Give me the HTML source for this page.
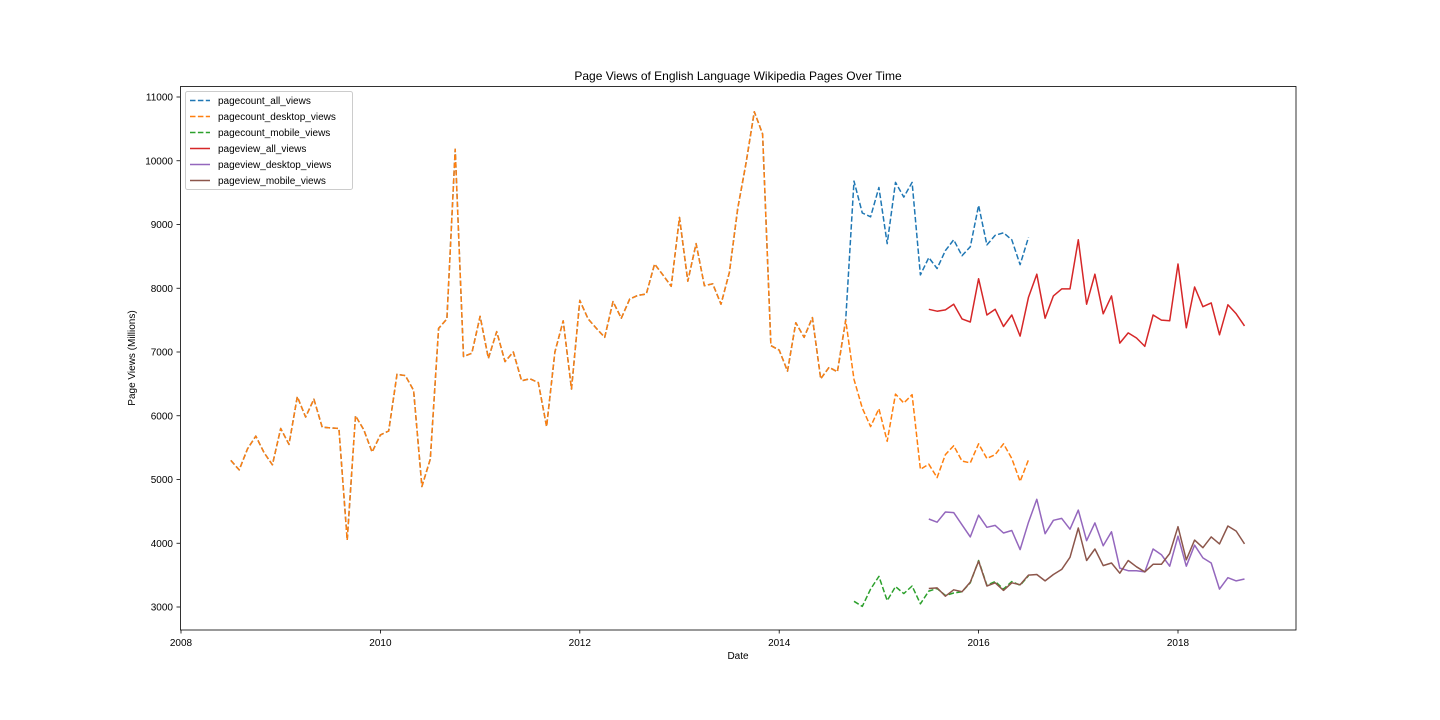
<!DOCTYPE html>
<html><head><meta charset="utf-8"><style>
body{margin:0;background:#fff;}
svg{display:block;font-family:"Liberation Sans","DejaVu Sans",sans-serif;}
</style></head><body>
<svg id="chart" width="1440" height="720" viewBox="0 0 1440 720">
<rect width="1440" height="720" fill="#fff"/>
<text x="738" y="80" font-size="12" text-anchor="middle">Page Views of English Language Wikipedia Pages Over Time</text>
<text x="738" y="659" font-size="10" text-anchor="middle">Date</text>
<text x="0" y="0" font-size="10" text-anchor="middle" transform="translate(135,358) rotate(-90)">Page Views (Millions)</text>
<g id="axes"></g>
<g id="series"></g>
<rect x="180.5" y="86.5" width="1115.5" height="543.5" fill="none" stroke="#000" stroke-width="0.8"/>
<g id="legend"></g>
</svg>
<script>
const xTicks = [2008, 2010, 2012, 2014, 2016, 2018];
const yTicks = [3000, 4000, 5000, 6000, 7000, 8000, 9000, 10000, 11000];
const seriesNames = ["pagecount_all_views","pagecount_desktop_views","pagecount_mobile_views","pageview_all_views","pageview_desktop_views","pageview_mobile_views"];
const pagecountEarly = [5300,5150,5480,5680,5420,5230,
5800,5550,6300,5980,6260,5820,5810,5800,4050,6000,5780,5430,
5700,5760,6650,6630,6400,4890,5320,7370,7520,10180,6930,6980,
7560,6900,7320,6850,7000,6550,6580,6520,5830,7000,7490,6420,
7810,7520,7370,7230,7790,7530,7830,7890,7910,8380,8210,8030,
9110,8110,8700,8040,8070,7750,8250,9250,9960,10770,10420,7100,
7030,6700,7460,7230,7540,6580,6760,6690,7500];
const pagecountAllLate = [9680,9180,9120,9580,8700,9660,9430,9660,8210,8480,8310,8590,8760,8510,8650,9300,8680,8830,8870,8760,8370,8800];
const pagecountDesktopLate = [6570,6120,5830,6110,5600,6340,6200,6330,5160,5240,5030,5390,5530,5290,5260,5560,5330,5390,5560,5330,4970,5310];
const pagecountMobile = [3090,3010,3280,3480,3100,3320,3210,3330,3050,3250,3290,3180,3220,3240,3380,3730,3340,3400,3280,3400,3340,3490];
const pageviewAll = [7670,7640,7660,7750,7520,7470,
8150,7580,7670,7400,7580,7250,7860,8220,7530,7880,7990,7990,
8760,7750,8220,7600,7880,7140,7300,7220,7090,7580,7500,7490,
8380,7380,8020,7710,7770,7270,7740,7600,7410];
const pageviewDesktop = [4380,4330,4490,4480,4290,4100,
4440,4250,4280,4160,4200,3900,4330,4690,4150,4360,4390,4220,
4520,4040,4320,3960,4180,3610,3570,3570,3550,3910,3820,3640,
4110,3640,3970,3770,3690,3280,3460,3410,3440];
const pageviewMobile = [3290,3300,3170,3270,3240,3390,
3720,3330,3380,3260,3380,3350,3500,3510,3410,3510,3590,3780,
4240,3730,3910,3650,3690,3530,3730,3630,3550,3670,3670,3840,
4260,3740,4050,3930,4100,3990,4270,4190,3990];
const colors = ["#1f77b4","#ff7f0e","#2ca02c","#d62728","#9467bd","#8c564b"];

const NS = "http://www.w3.org/2000/svg";
function xScale(year){ return 181 + (year - 2008) * 99.7; }
function yScale(v){ return 607 - (v - 3000) * 0.06375; }
function monthX(startYear, startMonth, i){ return xScale(startYear + (startMonth - 1 + i) / 12); }

const axes = document.getElementById('axes');
xTicks.forEach(t => {
  const x = xScale(t);
  const l = document.createElementNS(NS,'line');
  l.setAttribute('x1',x);l.setAttribute('x2',x);l.setAttribute('y1',630);l.setAttribute('y2',633.5);
  l.setAttribute('stroke','#000');l.setAttribute('stroke-width','0.8');
  
  
  axes.appendChild(l);
  const tx = document.createElementNS(NS,'text');
  tx.setAttribute('x',x);tx.setAttribute('y',646);tx.setAttribute('font-size','10');tx.setAttribute('text-anchor','middle');
  tx.textContent = t;
  
  
  axes.appendChild(tx);
});
yTicks.forEach(t => {
  const y = yScale(t);
  const l = document.createElementNS(NS,'line');
  l.setAttribute('x1',176.5);l.setAttribute('x2',180);l.setAttribute('y1',y);l.setAttribute('y2',y);
  l.setAttribute('stroke','#000');l.setAttribute('stroke-width','0.8');
  
  
  axes.appendChild(l);
  const tx = document.createElementNS(NS,'text');
  tx.setAttribute('x',173);tx.setAttribute('y',y+3.5);tx.setAttribute('font-size','10');tx.setAttribute('text-anchor','end');
  tx.textContent = t;
  
  
  axes.appendChild(tx);
});

const sg = document.getElementById('series');
function drawLine(vals, sy, sm, color, dashed, name){
  const pts = vals.map((v,i)=> monthX(sy,sm,i).toFixed(1)+','+yScale(v).toFixed(1)).join(' ');
  const p = document.createElementNS(NS,'polyline');
  p.setAttribute('points',pts);p.setAttribute('fill','none');p.setAttribute('stroke',color);
  p.setAttribute('stroke-width','1.5');p.setAttribute('stroke-linejoin','round');
  if(dashed) p.setAttribute('stroke-dasharray','5.5,2.4');
  
  
  sg.appendChild(p);
}
const pcAll = pagecountEarly.concat(pagecountAllLate);
const pcDesk = pagecountEarly.concat(pagecountDesktopLate);
drawLine(pcAll,2008,7,colors[0],true,'pagecount-all-line');
drawLine(pcDesk,2008,7,colors[1],true,'pagecount-desktop-line');
drawLine(pagecountMobile,2014,10,colors[2],true,'pagecount-mobile-line');
drawLine(pageviewAll,2015,7,colors[3],false,'pageview-all-line');
drawLine(pageviewDesktop,2015,7,colors[4],false,'pageview-desktop-line');
drawLine(pageviewMobile,2015,7,colors[5],false,'pageview-mobile-line');

const lg = document.getElementById('legend');
const box = document.createElementNS(NS,'rect');
box.setAttribute('x',185.5);box.setAttribute('y',91.5);box.setAttribute('width',167);box.setAttribute('height',98);
box.setAttribute('rx',2);box.setAttribute('fill','#fff');box.setAttribute('fill-opacity','0.8');box.setAttribute('stroke','#ccc');


lg.appendChild(box);
seriesNames.forEach((n,i)=>{
  const y = 100.5 + i*16;
  const l = document.createElementNS(NS,'line');
  l.setAttribute('x1',190);l.setAttribute('x2',210);l.setAttribute('y1',y);l.setAttribute('y2',y);
  l.setAttribute('stroke',colors[i]);l.setAttribute('stroke-width','1.5');
  if(i<3) l.setAttribute('stroke-dasharray','5.5,2.4');
  
  
  lg.appendChild(l);
  const t = document.createElementNS(NS,'text');
  t.setAttribute('x',218);t.setAttribute('y',y+3.5);t.setAttribute('font-size','10');
  t.textContent = n;
  
  
  lg.appendChild(t);
});
</script>
</body></html>
